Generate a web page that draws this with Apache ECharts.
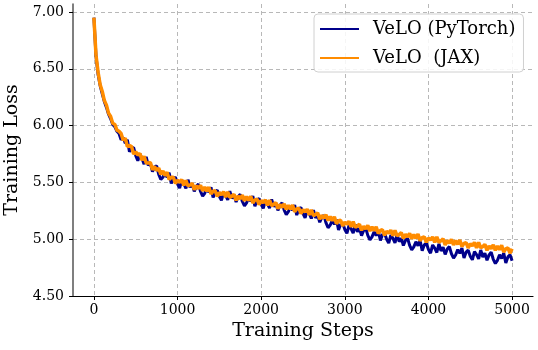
<!DOCTYPE html>
<html>
<head>
<meta charset="utf-8">
<script src="https://cdn.jsdelivr.net/npm/echarts@6/dist/echarts.min.js"></script>
<style>
  html, body { margin: 0; padding: 0; background: #fff; }
  #main { width: 538px; height: 350px; }
</style>
</head>
<body>
<div id="main"></div>
<script>
var chartDom = document.getElementById('main');
var myChart = echarts.init(chartDom);
var option;

// training steps (shared x values), every 25 steps
const steps = [0, 25, 50, 75, 100, 125, 150, 175, 200, 225, 250, 275, 300, 325, 350, 375, 400, 425, 450, 475,
  500, 525, 550, 575, 600, 625, 650, 675, 700, 725, 750, 775, 800, 825, 850, 875, 900, 925, 950, 975,
  1000, 1025, 1050, 1075, 1100, 1125, 1150, 1175, 1200, 1225, 1250, 1275, 1300, 1325, 1350, 1375, 1400, 1425, 1450, 1475,
  1500, 1525, 1550, 1575, 1600, 1625, 1650, 1675, 1700, 1725, 1750, 1775, 1800, 1825, 1850, 1875, 1900, 1925, 1950, 1975,
  2000, 2025, 2050, 2075, 2100, 2125, 2150, 2175, 2200, 2225, 2250, 2275, 2300, 2325, 2350, 2375, 2400, 2425, 2450, 2475,
  2500, 2525, 2550, 2575, 2600, 2625, 2650, 2675, 2700, 2725, 2750, 2775, 2800, 2825, 2850, 2875, 2900, 2925, 2950, 2975,
  3000, 3025, 3050, 3075, 3100, 3125, 3150, 3175, 3200, 3225, 3250, 3275, 3300, 3325, 3350, 3375, 3400, 3425, 3450, 3475,
  3500, 3525, 3550, 3575, 3600, 3625, 3650, 3675, 3700, 3725, 3750, 3775, 3800, 3825, 3850, 3875, 3900, 3925, 3950, 3975,
  4000, 4025, 4050, 4075, 4100, 4125, 4150, 4175, 4200, 4225, 4250, 4275, 4300, 4325, 4350, 4375, 4400, 4425, 4450, 4475,
  4500, 4525, 4550, 4575, 4600, 4625, 4650, 4675, 4700, 4725, 4750, 4775, 4800, 4825, 4850, 4875, 4900, 4925, 4950, 4975,
  5000];

// VeLO (PyTorch) loss
const lossTorch = [6.95, 6.61, 6.45, 6.35, 6.28, 6.21, 6.16, 6.10, 6.06, 6.01, 5.99, 5.95, 5.93, 5.875, 5.895, 5.845, 5.875, 5.77, 5.805, 5.805,
  5.735, 5.69, 5.75, 5.71, 5.66, 5.725, 5.65, 5.67, 5.595, 5.635, 5.645, 5.57, 5.525, 5.545, 5.585, 5.545, 5.585, 5.49, 5.535, 5.545,
  5.485, 5.45, 5.519, 5.489, 5.448, 5.523, 5.457, 5.487, 5.421, 5.466, 5.485, 5.42, 5.379, 5.404, 5.448, 5.413, 5.457, 5.367, 5.416, 5.431,
  5.375, 5.342, 5.413, 5.385, 5.346, 5.423, 5.359, 5.391, 5.327, 5.374, 5.395, 5.332, 5.293, 5.32, 5.366, 5.333, 5.379, 5.291, 5.342, 5.359,
  5.305, 5.271, 5.342, 5.313, 5.274, 5.35, 5.286, 5.317, 5.253, 5.299, 5.32, 5.256, 5.217, 5.243, 5.289, 5.255, 5.301, 5.212, 5.263, 5.279,
  5.225, 5.188, 5.256, 5.224, 5.182, 5.255, 5.188, 5.216, 5.149, 5.192, 5.21, 5.143, 5.101, 5.124, 5.167, 5.13, 5.173, 5.081, 5.129, 5.142,
  5.085, 5.051, 5.122, 5.092, 5.053, 5.129, 5.065, 5.095, 5.031, 5.077, 5.098, 5.033, 4.994, 5.02, 5.066, 5.031, 5.077, 4.988, 5.039, 5.054,
  5.00, 4.966, 5.036, 5.007, 4.967, 5.043, 4.978, 5.009, 4.944, 4.99, 5.01, 4.946, 4.906, 4.932, 4.977, 4.943, 4.988, 4.899, 4.949, 4.965,
  4.91, 4.877, 4.949, 4.921, 4.883, 4.96, 4.897, 4.929, 4.866, 4.913, 4.935, 4.872, 4.834, 4.861, 4.908, 4.875, 4.922, 4.834, 4.886, 4.903,
  4.85, 4.818, 4.891, 4.864, 4.827, 4.905, 4.843, 4.876, 4.814, 4.862, 4.885, 4.823, 4.786, 4.814, 4.862, 4.83, 4.878, 4.791, 4.844, 4.862,
  4.81];

// VeLO (JAX) loss
const lossJax = [6.95, 6.62, 6.47, 6.36, 6.30, 6.22, 6.18, 6.11, 6.08, 6.02, 6.01, 5.96, 5.95, 5.93, 5.87, 5.89, 5.815, 5.825, 5.815, 5.75,
  5.77, 5.74, 5.755, 5.695, 5.73, 5.67, 5.67, 5.675, 5.61, 5.64, 5.605, 5.625, 5.57, 5.60, 5.56, 5.59, 5.525, 5.545, 5.545, 5.49,
  5.52, 5.50, 5.524, 5.474, 5.518, 5.468, 5.477, 5.492, 5.436, 5.471, 5.445, 5.475, 5.424, 5.459, 5.423, 5.458, 5.397, 5.422, 5.426, 5.376,
  5.41, 5.392, 5.418, 5.37, 5.416, 5.368, 5.379, 5.396, 5.342, 5.379, 5.355, 5.387, 5.338, 5.375, 5.341, 5.378, 5.319, 5.346, 5.352, 5.304,
  5.34, 5.321, 5.347, 5.298, 5.344, 5.295, 5.306, 5.322, 5.268, 5.304, 5.28, 5.311, 5.262, 5.298, 5.264, 5.30, 5.241, 5.267, 5.273, 5.224,
  5.26, 5.24, 5.264, 5.214, 5.258, 5.208, 5.217, 5.232, 5.176, 5.211, 5.185, 5.215, 5.164, 5.199, 5.163, 5.198, 5.137, 5.162, 5.166, 5.116,
  5.15, 5.131, 5.157, 5.108, 5.154, 5.105, 5.116, 5.132, 5.078, 5.114, 5.09, 5.121, 5.072, 5.108, 5.074, 5.11, 5.051, 5.077, 5.083, 5.034,
  5.07, 5.052, 5.079, 5.031, 5.078, 5.03, 5.042, 5.059, 5.006, 5.043, 5.02, 5.052, 5.004, 5.041, 5.008, 5.045, 4.987, 5.014, 5.021, 4.973,
  5.01, 4.993, 5.02, 4.973, 5.02, 4.973, 4.985, 5.003, 4.95, 4.988, 4.965, 4.998, 4.95, 4.988, 4.955, 4.993, 4.935, 4.963, 4.97, 4.923,
  4.96, 4.943, 4.971, 4.923, 4.971, 4.924, 4.936, 4.954, 4.902, 4.939, 4.917, 4.95, 4.902, 4.94, 4.908, 4.946, 4.888, 4.916, 4.924, 4.877,
  4.915];

const seriesNames = ['VeLO (PyTorch)', 'VeLO  (JAX)'];
const seriesColors = ['#00008b', '#ff8c00'];

// tick positions
const xTicks = [0, 1000, 2000, 3000, 4000, 5000];
const yTicks = [4.5, 5.0, 5.5, 6.0, 6.5, 7.0];

const font = 'DejaVu Serif';

function pairs(xs, ys) {
  return xs.map(function (x, i) { return [x, ys[i]]; });
}

const gridLine = { show: true, lineStyle: { color: '#b8b8b8', type: [4, 3], width: 1 } };

option = {
  animation: false,
  grid: { left: 73, right: 5, top: 4, bottom: 54, outerBoundsMode: 'none' },
  legend: {
    left: 314,
    top: 14,
    orient: 'vertical',
    icon: 'rect',
    itemWidth: 39,
    itemHeight: 2,
    itemGap: 9,
    padding: [5, 8, 4, 6],
    borderColor: '#d0d0d0',
    borderWidth: 1,
    borderRadius: 4,
    backgroundColor: 'rgba(255,255,255,0.85)',
    textStyle: { fontFamily: font, fontSize: 18, color: '#000', lineHeight: 20, padding: [0, 0, 0, 9] },
    data: seriesNames
  },
  xAxis: {
    type: 'value',
    min: -250,
    max: 5250,
    name: 'Training Steps',
    nameLocation: 'middle',
    nameGap: 26,
    nameTextStyle: { fontFamily: font, fontSize: 19, color: '#000' },
    axisLine: { show: true, onZero: false, lineStyle: { color: '#000', width: 1.2 } },
    axisTick: { show: true, length: 4, lineStyle: { color: '#000' }, customValues: xTicks },
    axisLabel: {
      fontFamily: font, fontSize: 14, color: '#000', margin: 7, customValues: xTicks,
      formatter: function (v) { return String(v); }
    },
    splitLine: gridLine
  },
  yAxis: {
    type: 'value',
    min: 4.5,
    max: 7.07,
    name: 'Training Loss',
    nameLocation: 'middle',
    nameGap: 48,
    nameTextStyle: { fontFamily: font, fontSize: 19, color: '#000' },
    axisLine: { show: true, onZero: false, lineStyle: { color: '#555', width: 1.5 } },
    axisTick: { show: true, length: 4, lineStyle: { color: '#000' }, customValues: yTicks },
    axisLabel: {
      fontFamily: font, fontSize: 14, color: '#000', margin: 9, customValues: yTicks,
      formatter: function (v) { return v.toFixed(2); }
    },
    splitLine: gridLine
  },
  series: [
    {
      name: seriesNames[0],
      type: 'line',
      data: pairs(steps, lossTorch),
      showSymbol: false,
      symbol: 'none',
      color: seriesColors[0],
      lineStyle: { width: 3, color: seriesColors[0] },
      z: 2
    },
    {
      name: seriesNames[1],
      type: 'line',
      data: pairs(steps, lossJax),
      showSymbol: false,
      symbol: 'none',
      color: seriesColors[1],
      lineStyle: { width: 3.5, color: seriesColors[1] },
      z: 3
    }
  ]
};

option && myChart.setOption(option);
</script>
</body>
</html>
